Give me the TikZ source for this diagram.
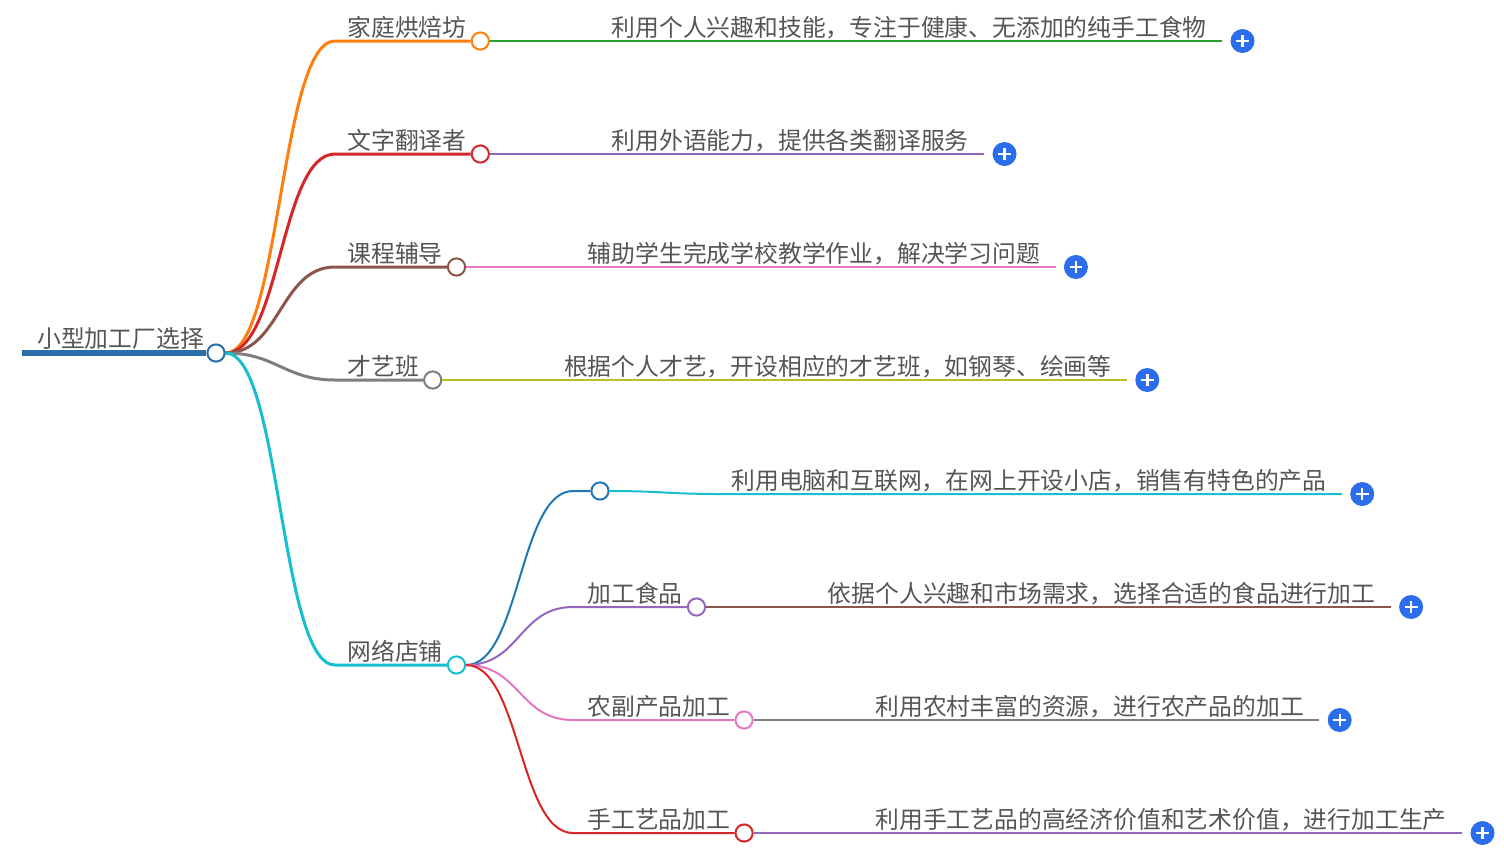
\documentclass[tikz,border=0pt]{standalone}
\usepackage{fontspec}
\newfontfamily\cjk{Noto Sans CJK SC}
\usetikzlibrary{positioning,calc}
\definecolor{rootblue}{HTML}{2B6FA8}
\definecolor{cblue}{HTML}{1F77B4}
\definecolor{corange}{HTML}{FF7F0E}
\definecolor{cgreen}{HTML}{2CA02C}
\definecolor{cred}{HTML}{D62728}
\definecolor{cpurple}{HTML}{9467BD}
\definecolor{cbrown}{HTML}{8C564B}
\definecolor{cpink}{HTML}{E377C2}
\definecolor{cgray}{HTML}{7F7F7F}
\definecolor{colive}{HTML}{BCBD22}
\definecolor{ccyan}{HTML}{17BECF}
\definecolor{plusblue}{HTML}{2B6DEB}
\definecolor{textgray}{HTML}{555555}

\begin{document}
\begin{tikzpicture}[
    x=0.5pt, y=-0.5pt,
    font=\cjk\fontsize{11.9}{14}\selectfont,
    lbl/.style={anchor=base west, inner sep=0pt, text=textgray},
    dot/.style={circle, draw=#1, fill=white, line width=1pt,
      minimum size=8.6pt, inner sep=0pt},
    plusdot/.style={circle, fill=plusblue, minimum size=12pt, inner sep=0pt,
      path picture={\draw[white, line width=1.2pt]
        ([xshift=-3.2pt]path picture bounding box.center) --
        ([xshift=3.2pt]path picture bounding box.center)
        ([yshift=-3.2pt]path picture bounding box.center) --
        ([yshift=3.2pt]path picture bounding box.center);}},
    branch/.style={draw=#1, line width=1.5pt},
    twig/.style={draw=#1, line width=1pt},
  ]
    \fill[white] (0,0) rectangle (1504,853);
    \useasboundingbox (0,0) rectangle (1504,853);

    %── Root ────────────────────────────────────────────────────────────
    \node[dot=rootblue] (root) at (216,353) {};
    \node[lbl] (rootlbl) at (37,347) {小型加工厂选择};
    \coordinate (rootend) at (22,353);
    \draw[rootblue, line width=2.6pt] (rootend) -- (root.west);

    %── 家庭烘焙坊 ──────────────────────────────────────────────────────
    \coordinate (k1) at (335,41);
    \node[lbl] (l1) at (347,36) {家庭烘焙坊};
    \node[dot=corange] (c1) at ([shift={(6.75pt,-2.5pt)}]l1.base east) {};
    \draw[branch=corange] (root.east) .. controls +(55,0) and +(-55,0) .. (k1) -- (c1.west);
    \node[lbl] (d1) at ([shift={(65.5pt,2.5pt)}]c1.center)
      {利用个人兴趣和技能，专注于健康、无添加的纯手工食物};
    \coordinate (e1) at ([shift={(7.5pt,-2.5pt)}]d1.base east);
    \draw[twig=cgreen] (c1.east) -- (e1);
    \node[plusdot, right=4pt of e1] (p1) {};

    %── 文字翻译者 ──────────────────────────────────────────────────────
    \coordinate (k2) at (335,154);
    \node[lbl] (l2) at (347,149) {文字翻译者};
    \node[dot=cred] (c2) at ([shift={(6.75pt,-2.5pt)}]l2.base east) {};
    \draw[branch=cred] (root.east) .. controls +(55,0) and +(-55,0) .. (k2) -- (c2.west);
    \node[lbl] (d2) at ([shift={(65.5pt,2.5pt)}]c2.center)
      {利用外语能力，提供各类翻译服务};
    \coordinate (e2) at ([shift={(7.5pt,-2.5pt)}]d2.base east);
    \draw[twig=cpurple] (c2.east) -- (e2);
    \node[plusdot, right=4pt of e2] (p2) {};

    %── 课程辅导 ────────────────────────────────────────────────────────
    \coordinate (k3) at (335,267);
    \node[lbl] (l3) at (347,262) {课程辅导};
    \node[dot=cbrown] (c3) at ([shift={(6.75pt,-2.5pt)}]l3.base east) {};
    \draw[branch=cbrown] (root.east) .. controls +(55,0) and +(-55,0) .. (k3) -- (c3.west);
    \node[lbl] (d3) at ([shift={(65.5pt,2.5pt)}]c3.center)
      {辅助学生完成学校教学作业，解决学习问题};
    \coordinate (e3) at ([shift={(7.5pt,-2.5pt)}]d3.base east);
    \draw[twig=cpink] (c3.east) -- (e3);
    \node[plusdot, right=4pt of e3] (p3) {};

    %── 才艺班 ──────────────────────────────────────────────────────────
    \coordinate (k4) at (335,380);
    \node[lbl] (l4) at (347,375) {才艺班};
    \node[dot=cgray] (c4) at ([shift={(6.75pt,-2.5pt)}]l4.base east) {};
    \draw[branch=cgray] (root.east) .. controls +(50,0) and +(-50,0) .. (k4) -- (c4.west);
    \node[lbl] (d4) at ([shift={(65.5pt,2.5pt)}]c4.center)
      {根据个人才艺，开设相应的才艺班，如钢琴、绘画等};
    \coordinate (e4) at ([shift={(7.5pt,-2.5pt)}]d4.base east);
    \draw[twig=colive] (c4.east) -- (e4);
    \node[plusdot, right=4pt of e4] (p4) {};

    %── 网络店铺 ────────────────────────────────────────────────────────
    \coordinate (k5) at (335,665);
    \node[lbl] (l5) at (347,660) {网络店铺};
    \node[dot=ccyan] (net) at ([shift={(6.75pt,-2.5pt)}]l5.base east) {};
    \draw[branch=ccyan] (root.east) .. controls +(55,0) and +(-55,0) .. (k5) -- (net.west);

    % sub: (no label)
    \coordinate (m1) at (573,491);
    \node[dot=cblue] (s1) at (600,491) {};
    \draw[twig=cblue] (net.east) .. controls +(54,0) and +(-54,0) .. (m1) -- (s1.west);
    \node[lbl] (t1) at ([shift={(65.5pt,1pt)}]s1.center)
      {利用电脑和互联网，在网上开设小店，销售有特色的产品};
    \coordinate (n1) at ([shift={(-6pt,-2.5pt)}]t1.base west);
    \coordinate (f1) at ([shift={(7.5pt,-2.5pt)}]t1.base east);
    \draw[twig=ccyan] (s1.east) .. controls +(50,0) and +(-50,0) .. (n1) -- (f1);
    \node[plusdot, right=4pt of f1] (q1) {};

    % sub: 加工食品
    \coordinate (m2) at (573,607);
    \node[lbl] (u2) at (587,602) {加工食品};
    \node[dot=cpurple] (s2) at ([shift={(6.75pt,-2.5pt)}]u2.base east) {};
    \draw[twig=cpurple] (net.east) .. controls +(54,0) and +(-54,0) .. (m2) -- (s2.west);
    \node[lbl] (t2) at ([shift={(65.5pt,2.5pt)}]s2.center)
      {依据个人兴趣和市场需求，选择合适的食品进行加工};
    \coordinate (f2) at ([shift={(7.5pt,-2.5pt)}]t2.base east);
    \draw[twig=cbrown] (s2.east) -- (f2);
    \node[plusdot, right=4pt of f2] (q2) {};

    % sub: 农副产品加工
    \coordinate (m3) at (573,720);
    \node[lbl] (u3) at (587,715) {农副产品加工};
    \node[dot=cpink] (s3) at ([shift={(6.75pt,-2.5pt)}]u3.base east) {};
    \draw[twig=cpink] (net.east) .. controls +(54,0) and +(-54,0) .. (m3) -- (s3.west);
    \node[lbl] (t3) at ([shift={(65.5pt,2.5pt)}]s3.center)
      {利用农村丰富的资源，进行农产品的加工};
    \coordinate (f3) at ([shift={(7.5pt,-2.5pt)}]t3.base east);
    \draw[twig=cgray] (s3.east) -- (f3);
    \node[plusdot, right=4pt of f3] (q3) {};

    % sub: 手工艺品加工
    \coordinate (m4) at (573,833);
    \node[lbl] (u4) at (587,828) {手工艺品加工};
    \node[dot=cred] (s4) at ([shift={(6.75pt,-2.5pt)}]u4.base east) {};
    \draw[twig=cred] (net.east) .. controls +(54,0) and +(-54,0) .. (m4) -- (s4.west);
    \node[lbl] (t4) at ([shift={(65.5pt,2.5pt)}]s4.center)
      {利用手工艺品的高经济价值和艺术价值，进行加工生产};
    \coordinate (f4) at ([shift={(7.5pt,-2.5pt)}]t4.base east);
    \draw[twig=cpurple] (s4.east) -- (f4);
    \node[plusdot, right=4pt of f4] (q4) {};
  \end{tikzpicture}
\end{document}
